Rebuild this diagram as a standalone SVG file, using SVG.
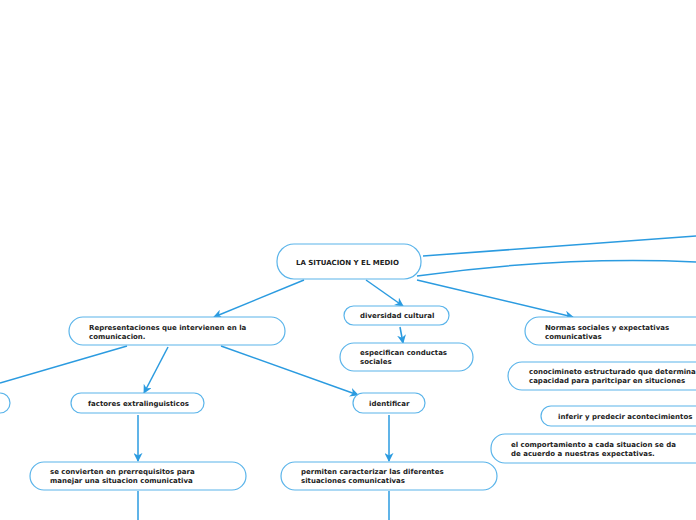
<svg xmlns="http://www.w3.org/2000/svg" width="696" height="520" viewBox="0 0 696 520">
<defs>
<style>
.n{fill:#fff;stroke:#5ab4ea;stroke-width:1.2}
.t{font-family:"DejaVu Sans",sans-serif;font-weight:bold;font-size:7px;fill:#222}
.c{fill:none;stroke:#2b9be0;stroke-width:1.5}
</style>
<marker id="a" viewBox="0 0 10 10" refX="9" refY="5" markerWidth="6" markerHeight="6" orient="auto"><path d="M0,0L10,5L0,10L3,5z" fill="#2b9be0"/></marker>
</defs>
<rect width="696" height="520" fill="#fff"/>
<g id="connectors">
<path class="c" d="M304,280L214,317" marker-end="url(#a)"/>
<path class="c" d="M366,280L403,306" marker-end="url(#a)"/>
<path class="c" d="M417,280L573,317" marker-end="url(#a)"/>
<path class="c" d="M423,256L696,236"/>
<path class="c" d="M417,276Q560,256 696,262"/>
<path class="c" d="M400,327L403,343" marker-end="url(#a)"/>
<path class="c" d="M127,346L0,383"/>
<path class="c" d="M168,347L144,393" marker-end="url(#a)"/>
<path class="c" d="M221,346L358,395" marker-end="url(#a)"/>
<path class="c" d="M138,415L138,461" marker-end="url(#a)"/>
<path class="c" d="M389,415L389,461" marker-end="url(#a)"/>
<path class="c" d="M138,491L138,520"/>
<path class="c" d="M389,491L389,520"/>
</g>
<g id="root"><rect class="n" x="277" y="244" width="144" height="35" rx="17"/><text class="t" x="296" y="265">LA SITUACION Y EL MEDIO</text></g>
<g id="diversidad"><rect class="n" x="344" y="306" width="105" height="19" rx="9.5"/><text class="t" x="360" y="318">diversidad cultural</text></g>
<g id="especifican"><rect class="n" x="340" y="343" width="133" height="28" rx="14"/><text class="t" x="360" y="355">especifican conductas</text><text class="t" x="360" y="364">sociales</text></g>
<g id="normas"><rect class="n" x="525" y="317" width="190" height="28" rx="14"/><text class="t" x="545" y="330">Normas sociales y expectativas</text><text class="t" x="545" y="339">comunicativas</text></g>
<g id="conocimiento"><rect class="n" x="508" y="362" width="210" height="28" rx="14"/><text class="t" x="529" y="374">conocimineto estructurado que determina</text><text class="t" x="529" y="383">capacidad para paritcipar en situciones</text></g>
<g id="inferir"><rect class="n" x="541" y="406" width="180" height="20" rx="10"/><text class="t" x="558" y="419">inferir y predecir acontecimientos</text></g>
<g id="comportamiento"><rect class="n" x="491" y="434" width="230" height="29" rx="14"/><text class="t" x="511" y="447">el comportamiento a cada situacion se da</text><text class="t" x="511" y="456">de acuerdo a nuestras expectativas.</text></g>
<g id="representaciones"><rect class="n" x="69" y="317" width="216" height="28" rx="14"/><text class="t" x="89" y="330">Representaciones que intervienen en la</text><text class="t" x="89" y="339">comunicacion.</text></g>
<g id="left"><rect class="n" x="-60" y="393" width="70" height="20" rx="10"/></g>
<g id="factores"><rect class="n" x="71" y="393" width="133" height="20" rx="10"/><text class="t" x="88" y="406">factores extralinguisticos</text></g>
<g id="identificar"><rect class="n" x="353" y="393" width="72" height="20" rx="10"/><text class="t" x="369" y="406">identificar</text></g>
<g id="convierten"><rect class="n" x="30" y="462" width="216" height="28" rx="14"/><text class="t" x="50" y="474">se convierten en prerrequisitos para</text><text class="t" x="50" y="483">manejar una situacion comunicativa</text></g>
<g id="permiten"><rect class="n" x="281" y="462" width="216" height="28" rx="14"/><text class="t" x="301" y="474">permiten caracterizar las diferentes</text><text class="t" x="301" y="483">situaciones comunicativas</text></g>
</svg>
